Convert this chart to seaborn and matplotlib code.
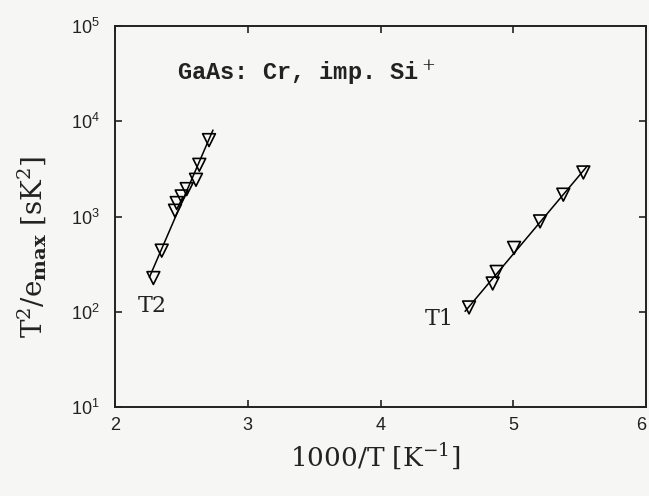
import numpy as np
import pandas as pd
import seaborn as sns
import matplotlib.pyplot as plt
from matplotlib.ticker import FixedLocator

sns.set_theme(style="ticks")
plt.rcParams['font.family'] = ['Liberation Sans', 'DejaVu Sans']
plt.rcParams['mathtext.fontset'] = 'dejavuserif'

# --- data (1000/T in 1/K, T^2/e_max in s K^2) ---
t2_x = [2.708, 2.635, 2.610, 2.540, 2.502, 2.465, 2.452, 2.352, 2.289]
t2_y = [6340, 3490, 2430, 1940, 1625, 1385, 1150, 438, 226]

t1_x = [4.667, 4.845, 4.875, 5.006, 5.202, 5.377, 5.528]
t1_y = [111, 198, 262, 468, 889, 1695, 2900]

x_ticks = [2, 3, 4, 5, 6]
y_ticks = [1e1, 1e2, 1e3, 1e4, 1e5]

df = pd.concat([
    pd.DataFrame({'x': t2_x, 'y': t2_y, 'trap': 'T2'}),
    pd.DataFrame({'x': t1_x, 'y': t1_y, 'trap': 'T1'}),
], ignore_index=True)

# straight Arrhenius fits in log space
fit_rows = []
for trap, grp in df.groupby('trap'):
    k, b = np.polyfit(grp['x'], np.log10(grp['y']), 1)
    xs = np.array([grp['x'].min() - 0.03, grp['x'].max() + 0.03])
    fit_rows.append(pd.DataFrame({'x': xs, 'y': 10 ** (k * xs + b), 'trap': trap}))
fits = pd.concat(fit_rows, ignore_index=True)

fig = plt.figure(figsize=(6.49, 4.96), dpi=100, facecolor='#f6f6f4')
ax = fig.add_axes([0.1772, 0.1794, 0.8182, 0.7681])
ax.set_facecolor('#f6f6f4')

sns.lineplot(data=fits, x='x', y='y', units='trap', estimator=None,
             color='black', linewidth=1.1, ax=ax, legend=False)
sns.scatterplot(data=df, x='x', y='y', marker='v', s=85,
                facecolor='none', edgecolor='black', linewidth=1.2,
                ax=ax, legend=False, zorder=3)

ax.set_yscale('log')
ax.set_xlim(2, 6)
ax.set_ylim(1e1, 1e5)
ax.xaxis.set_major_locator(FixedLocator(x_ticks))
ax.yaxis.set_major_locator(FixedLocator(y_ticks))
ax.minorticks_off()

ax.tick_params(direction='in', length=5, width=1.2, labelsize=13,
               top=True, right=True, colors='#222222')
ax.tick_params(axis='x', pad=7)
ax.tick_params(axis='y', pad=11)
for sp in ax.spines.values():
    sp.set_linewidth(1.4)
    sp.set_color('#222222')

# the last x label sits at the figure edge, keep it inside
fig.canvas.draw()
ax.get_xticklabels()[-1].set_horizontalalignment('right')

serif = ['DejaVu Serif']
ax.set_xlabel(r'1000/T [K$^{-1}$]', fontsize=19, family=serif, color='#222222')
ax.set_ylabel(r'T$^2$/e$_{\mathbf{max}}$ [sK$^2$]', fontsize=20, family=serif,
              color='#222222')
ax.xaxis.set_label_coords(0.49, -0.09)
ax.yaxis.set_label_coords(-0.125, 0.42)

ax.text(2.467, 27200, r'GaAs: Cr, imp. Si$^+$', fontsize=17, fontweight='bold',
        family=['Liberation Mono'], color='#222222')
ax.text(2.173, 100, 'T2', fontsize=16, family=serif, color='#222222')
ax.text(4.335, 73, 'T1', fontsize=16, family=serif, color='#222222')

fig.savefig('out.png', dpi=100, facecolor=fig.get_facecolor())
